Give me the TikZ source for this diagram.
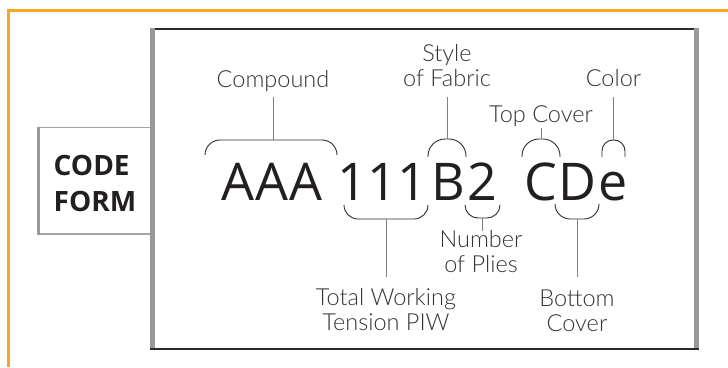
\documentclass[tikz,border=0pt]{standalone}
\usepackage{fontspec}
\newfontfamily\bigfont{Open Sans}
\newfontfamily\boldfont{Open Sans}
\newfontfamily\lblfont{Lato Light}
\definecolor{orangeline}{HTML}{F6A623}
\definecolor{grayband}{HTML}{98999B}
\definecolor{lightband}{HTML}{A3A4A6}
\definecolor{darkline}{HTML}{2B2B2B}
\definecolor{inkc}{HTML}{231F20}
\definecolor{lblc}{HTML}{333333}
\definecolor{stemc}{HTML}{7F7F7F}
\begin{document}
\begin{tikzpicture}[x=1pt,y=-1pt,
  bigletter/.style={font=\bigfont\fontsize{52}{52}\selectfont, text=inkc, inner sep=0pt, anchor=base},
  lbl/.style={font=\lblfont\fontsize{23.5}{25}\selectfont, text=lblc, inner sep=0pt, align=center},
  capline/.style={draw=darkline, line width=0.9pt},
  stemline/.style={draw=stemc, line width=0.9pt}]
\useasboundingbox (0,0) rectangle (728,367);
% orange frame
\draw[orangeline, line width=3pt] (8.7,367) -- (8.7,10) -- (728,10);
% code form box
\draw[lightband, line width=1.5pt] (37,127.7) -- (152,127.7);
\draw[lightband, line width=1.5pt] (37,234) -- (152,234);
\draw[grayband, line width=3.5pt] (38.7,127) -- (38.7,234.7);
% main box
\draw[darkline, line width=2pt] (150,29.2) -- (696,29.2);
\draw[darkline, line width=2pt] (150,349) -- (699,349);
\draw[grayband, line width=5pt] (152.5,28.2) -- (152.5,348);
\draw[grayband, line width=5pt] (696.5,28.2) -- (696.5,348);
% code form text
\node[font=\boldfont\bfseries\fontsize{28}{36}\selectfont, text=inkc, inner sep=0pt, anchor=base west, align=left] (codeform) at (53.5,211.5) {CODE\\FORM};
% big letters
\node[bigletter] (a1) at (238,200) {A};
\node[bigletter] (a2) at (272,200) {A};
\node[bigletter] (a3) at (306,200) {A};
\node[bigletter] (o1) at (352,200) {1};
\node[bigletter] (o2) at (382,200) {1};
\node[bigletter] (o3) at (412,200) {1};
\node[bigletter] (b)  at (448,200) {B};
\node[bigletter] (two) at (482,200) {2};
\node[bigletter] (c)  at (541,200) {C};
\node[bigletter] (d)  at (577,200) {D};
\node[bigletter] (e)  at (613,200) {e};
% braces
\coordinate (capCmp) at (273,140);
\coordinate (capFab) at (447,139);
\coordinate (capTop) at (541,139);
\coordinate (capCol) at (613.5,140);
\coordinate (cupTot) at (386,219);
\coordinate (cupPly) at (482.5,218);
\coordinate (cupBot) at (577,219);
\draw[capline, rounded corners=15pt] (205,155) -- (205,140) -- (337,140) -- (337,155);
\draw[capline, rounded corners=17pt] (428,157) -- (428,139) -- (466,139) -- (466,157);
\draw[capline, rounded corners=17pt] (522,157) -- (522,139) -- (560,139) -- (560,157);
\draw[capline, rounded corners=11pt] (602,157) -- (602,140) -- (625,140) -- (625,157);
\draw[capline, rounded corners=14pt] (344,205) -- (344,219) -- (428,219) -- (428,205);
\draw[capline, rounded corners=13pt] (465,205) -- (465,218) -- (500,218) -- (500,205);
\draw[capline, rounded corners=15pt] (555,205) -- (555,219) -- (599,219) -- (599,205);
% labels
\node[lbl, anchor=south] (cmp) at (273,92) {Compound};
\node[lbl, anchor=south] (fab) at (447,87) {Style\\of Fabric};
\node[lbl, anchor=south] (top) at (541,127.3) {Top Cover};
\node[lbl, anchor=south] (col) at (613.5,87) {Color};
\node[lbl, anchor=north] (tot) at (386,288.6) {Total Working\\Tension PIW};
\node[lbl, anchor=north] (ply) at (481,230.6) {Number\\of Plies};
\node[lbl, anchor=north] (bot) at (577,289.6) {Bottom\\Cover};
% stems
\draw[stemline, shorten <=5pt] (cmp.south) -- (capCmp);
\draw[stemline, shorten <=10pt] (fab.south) -- (capFab);
\draw[stemline, shorten <=0.7pt] (top.south) -- (capTop);
\draw[stemline, shorten <=10pt] (col.south) -- (capCol);
\draw[stemline, shorten >=11.6pt] (cupTot) -- (tot.north);
\draw[stemline] (cupPly) -- (cupPly |- ply.north);
\draw[stemline, shorten >=12.6pt] (cupBot) -- (bot.north);
\end{tikzpicture}
\end{document}
